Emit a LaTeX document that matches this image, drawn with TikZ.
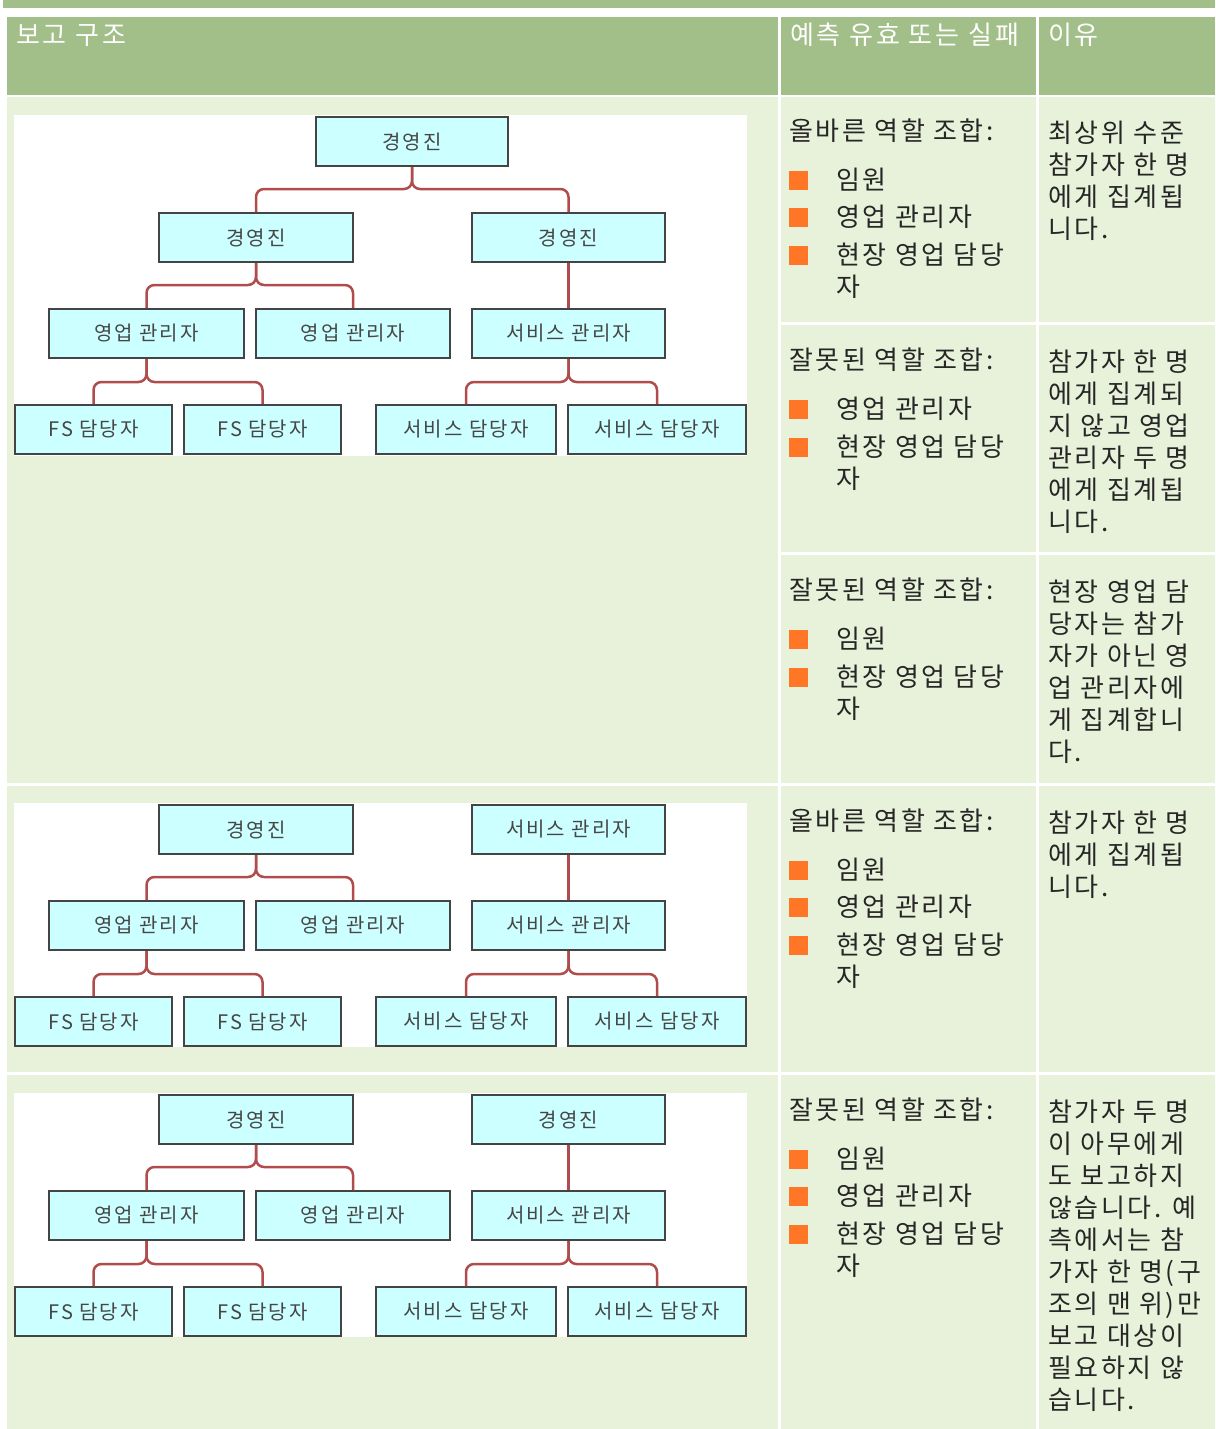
\documentclass[tikz,border=0pt]{standalone}
\usepackage{fontspec}
\usepackage{xcolor}
\usepackage{tikz}
\setmainfont{Noto Sans CJK KR}
\definecolor{tblhead}{RGB}{162,190,137}
\definecolor{tblbody}{RGB}{232,242,218}
\definecolor{bulorange}{RGB}{255,118,38}
\definecolor{orgcyan}{RGB}{204,255,255}
\definecolor{orgedge}{RGB}{68,68,68}
\definecolor{orgtext}{RGB}{70,70,70}
\definecolor{linkred}{RGB}{176,76,76}
\newcommand{\bul}{\makebox[47pt][l]{\textcolor{bulorange}{\rule[-1pt]{19pt}{19pt}}}}
\newcommand{\cont}{\hspace*{47pt}}
\newcommand{\celltop}{\rule{0pt}{26pt}}

\begin{document}
\begin{tikzpicture}[x=1pt, y=-1pt,
    orgbox/.style={draw=orgedge, line width=2pt, fill=orgcyan, text=orgtext, minimum height=49pt, inner sep=0pt, font=\fontsize{20}{24}\selectfont\addfontfeatures{LetterSpace=10}},
    link/.style={draw=linkred, line width=2.5pt, rounded corners=8pt},
    headtext/.style={anchor=base west, inner sep=0pt, text=white, font=\fontsize{26}{30}\selectfont\addfontfeatures{LetterSpace=11}},
    celltext/.style={anchor=north west, inner sep=0pt, align=left, text=black!85, font=\fontsize{26}{32}\selectfont\addfontfeatures{LetterSpace=10}}]
    \useasboundingbox (0,0) rectangle (1215,1429);
    \fill[white] (0,0) rectangle (1215,1429);

    % Table cells
    \fill[tblhead] (3,0) rectangle (1215,8);
    \fill[tblhead] (7,17) rectangle (778,95);
    \fill[tblhead] (781,17) rectangle (1036,95);
    \fill[tblhead] (1039,17) rectangle (1215,95);
    \fill[tblbody] (7,97) rectangle (778,783);
    \fill[tblbody] (7,786) rectangle (778,1072);
    \fill[tblbody] (7,1075) rectangle (778,1429);
    \foreach \ya/\yb in {97/322, 325/552, 555/783, 786/1072, 1075/1429} {
        \fill[tblbody] (781,\ya) rectangle (1036,\yb);
        \fill[tblbody] (1039,\ya) rectangle (1215,\yb);
    }
    \fill[white] (14,115) rectangle (747,456);
    \fill[white] (14,803) rectangle (747,1047);
    \fill[white] (14,1093) rectangle (747,1337);

    % Header
    \node[headtext] (headstruct) at (16,45) {보고 구조};
    \node[headtext] (headpred) at (790,45) {예측 유효 또는 실패};
    \node[headtext] (headwhy) at (1048,45) {이유};

    % Org charts
    \node[orgbox, minimum width=192pt] (top) at (412,141.5) {경영진};
    \foreach \dy/\c/\rt in {0/a/경영진, 592/b/서비스 관리자, 882/c/경영진} {
        \begin{scope}[shift={(0,\dy)}]
            \node[orgbox, minimum width=194pt] (e1\c) at (256,237.5) {경영진};
            \node[orgbox, minimum width=193pt] (e2\c) at (568.5,237.5) {\rt};
            \node[orgbox, minimum width=195pt] (m1\c) at (146.5,333.5) {영업 관리자};
            \node[orgbox, minimum width=194pt] (m2\c) at (353,333.5) {영업 관리자};
            \node[orgbox, minimum width=193pt] (s1\c) at (568.5,333.5) {서비스 관리자};
            \node[orgbox, minimum width=157pt] (f1\c) at (93.5,429.5) {FS 담당자};
            \node[orgbox, minimum width=157pt] (f2\c) at (262.5,429.5) {FS 담당자};
            \node[orgbox, minimum width=180pt] (d1\c) at (466,429.5) {서비스 담당자};
            \node[orgbox, minimum width=178pt] (d2\c) at (657,429.5) {서비스 담당자};

            % Connections
            \draw[link] (e1\c.south) -- ++(0,22) -| (m1\c.north);
            \draw[link] (e1\c.south) -- ++(0,22) -| (m2\c.north);
            \draw[link] (e2\c.south) -- (s1\c.north);
            \draw[link] (m1\c.south) -- ++(0,23) -| (f1\c.north);
            \draw[link] (m1\c.south) -- ++(0,23) -| (f2\c.north);
            \draw[link] (s1\c.south) -- ++(0,23) -| (d1\c.north);
            \draw[link] (s1\c.south) -- ++(0,23) -| (d2\c.north);
        \end{scope}
    }
    \draw[link] (top.south) -- ++(0,22) -| (e1a.north);
    \draw[link] (top.south) -- ++(0,22) -| (e2a.north);

    % Role combinations
    \node[celltext] (combo1) at (789,114) {\celltop 올바른 역할 조합:\\[17pt]\bul 임원\\[5pt]\bul 영업 관리자\\[6pt]\bul 현장 영업 담당\\\cont 자};
    \node[celltext] (combo2) at (789,343) {\celltop 잘못된 역할 조합:\\[17pt]\bul 영업 관리자\\[6pt]\bul 현장 영업 담당\\\cont 자};
    \node[celltext] (combo3) at (789,573) {\celltop 잘못된 역할 조합:\\[17pt]\bul 임원\\[6pt]\bul 현장 영업 담당\\\cont 자};
    \node[celltext] (combo4) at (789,804) {\celltop 올바른 역할 조합:\\[17pt]\bul 임원\\[5pt]\bul 영업 관리자\\[6pt]\bul 현장 영업 담당\\\cont 자};
    \node[celltext] (combo5) at (789,1093) {\celltop 잘못된 역할 조합:\\[17pt]\bul 임원\\[5pt]\bul 영업 관리자\\[6pt]\bul 현장 영업 담당\\\cont 자};

    % Reasons
    \node[celltext] (why1) at (1048,116) {\celltop 최상위 수준\\참가자 한 명\\에게 집계됩\\니다.};
    \node[celltext] (why2) at (1048,345) {\celltop 참가자 한 명\\에게 집계되\\지 않고 영업\\관리자 두 명\\에게 집계됩\\니다.};
    \node[celltext] (why3) at (1048,575) {\celltop 현장 영업 담\\당자는 참가\\자가 아닌 영\\업 관리자에\\게 집계합니\\다.};
    \node[celltext] (why4) at (1048,806) {\celltop 참가자 한 명\\에게 집계됩\\니다.};
    \node[celltext] (why5) at (1048,1095) {\celltop 참가자 두 명\\이 아무에게\\도 보고하지\\않습니다. 예\\측에서는 참\\가자 한 명(구\\조의 맨 위)만\\보고 대상이\\필요하지 않\\습니다.};
\end{tikzpicture}
\end{document}
